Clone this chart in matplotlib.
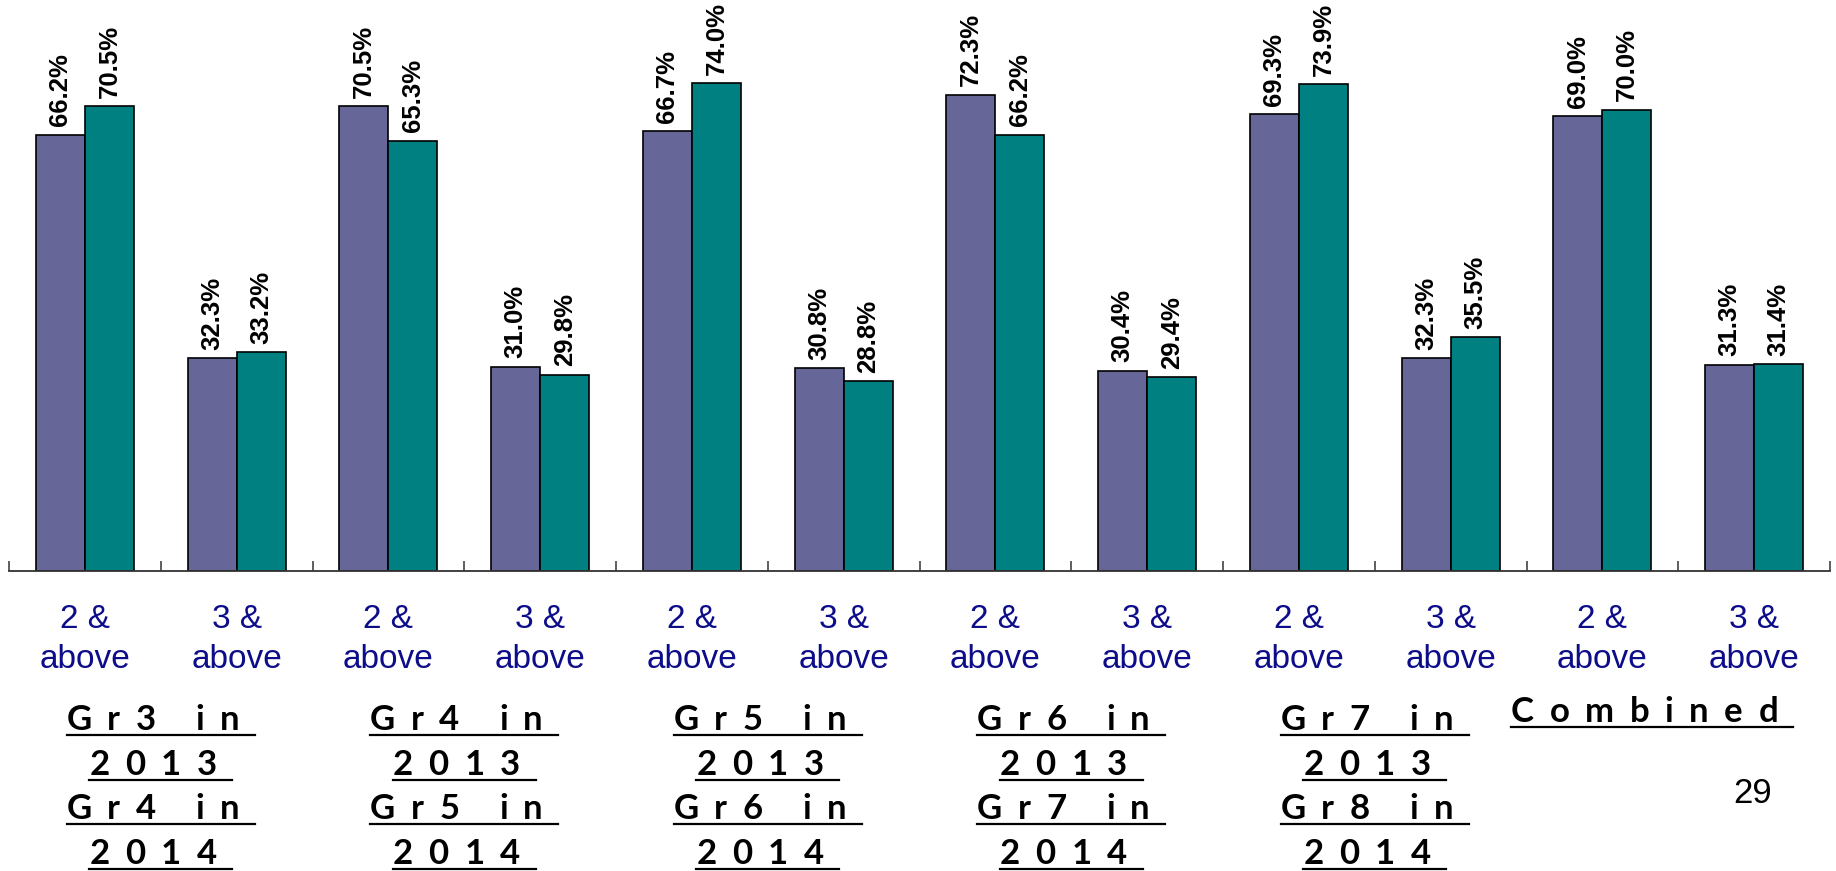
import numpy as np
import matplotlib
matplotlib.use('Agg')
import matplotlib.pyplot as plt
from matplotlib.font_manager import FontProperties, findfont, get_font
from matplotlib.transforms import IdentityTransform
from matplotlib.lines import Line2D

# data
categories = ['2 &\nabove', '3 &\nabove'] * 6
vals_2013 = [66.2, 32.3, 70.5, 31.0, 66.7, 30.8, 72.3, 30.4, 69.3, 32.3, 69.0, 31.3]
vals_2014 = [70.5, 33.2, 65.3, 29.8, 74.0, 28.8, 66.2, 29.4, 73.9, 35.5, 70.0, 31.4]
group_labels = [
    ['Gr3 in', '2013', 'Gr4 in', '2014'],
    ['Gr4 in', '2013', 'Gr5 in', '2014'],
    ['Gr5 in', '2013', 'Gr6 in', '2014'],
    ['Gr6 in', '2013', 'Gr7 in', '2014'],
    ['Gr7 in', '2013', 'Gr8 in', '2014'],
    ['Combined'],
]
page_number = '29'

W, H, DPI = 1836, 871, 100
PURPLE = '#666699'
TEAL = '#008080'
NAVY = '#0d0d8a'

fig = plt.figure(figsize=(W / DPI, H / DPI), dpi=DPI)
ax = fig.add_axes([9 / W, 300 / H, (1830 - 9) / W, 571 / H])

x = np.arange(len(categories))
bw = 0.323
ax.bar(x - bw / 2, vals_2013, bw, color=PURPLE, edgecolor='black', linewidth=1.2)
ax.bar(x + bw / 2, vals_2014, bw, color=TEAL, edgecolor='black', linewidth=1.2)

for xs, vs in [(x - bw / 2, vals_2013), (x + bw / 2, vals_2014)]:
    for xi, v in zip(xs, vs):
        ax.annotate(f'{v:.1f}%', (xi, v), xytext=(0, 6), textcoords='offset points',
                    rotation=90, ha='center', va='bottom', fontsize=18.5,
                    fontweight='bold', family='Liberation Sans')

ax.set_xlim(-0.5, len(categories) - 0.5)
ax.set_ylim(0, 571 / 6.59)
for s in ['top', 'left', 'right']:
    ax.spines[s].set_visible(False)
ax.spines['bottom'].set_color('#333333')
ax.spines['bottom'].set_linewidth(1.3)
ax.set_yticks([])
ax.set_xticks(np.arange(-0.5, len(categories), 1.0))
ax.set_xticklabels([])
ax.tick_params(axis='x', direction='in', length=7.5, width=1.1, color='#333333')

# category labels under the axis (each line on its own baseline)
to_pix = IdentityTransform()
for xi, lab in zip(x, categories):
    cx = ax.transData.transform((xi, 0))[0]
    l1, l2 = lab.split('\n')
    fig.text(cx, H - 628, l1, transform=to_pix, ha='center', va='baseline',
             fontsize=24, color=NAVY, family='Liberation Sans')
    fig.text(cx, H - 668, l2, transform=to_pix, ha='center', va='baseline',
             fontsize=24, color=NAVY, family='Liberation Sans')

# group labels: bold, letter spaced, underlined
grp_prop = FontProperties(family='Lato', weight='bold', size=25)
grp_font = get_font(findfont(grp_prop))
grp_font.set_size(25, DPI)


def spaced_text(cx, y, s, track=15.5):
    advs = [grp_font.load_char(ord(c)).linearHoriAdvance / 65536 + track for c in s]
    total = sum(advs)
    x0 = cx - total / 2
    xp = x0
    for c, a in zip(s, advs):
        fig.text(xp, y, c, transform=to_pix, fontproperties=grp_prop,
                 ha='left', va='baseline')
        xp += a
    fig.add_artist(Line2D([x0, x0 + total], [y - 5, y - 5], transform=to_pix,
                          color='black', lw=1.6))


rows_y = [H - 730, H - 775, H - 819, H - 864]
for gi, rows in enumerate(group_labels):
    cx = ax.transData.transform((2 * gi + 0.5, 0))[0]
    if len(rows) == 1:
        spaced_text(cx - 26, H - 722, rows[0])
    else:
        for r, y in zip(rows, rows_y):
            spaced_text(cx, y, r)

fig.text(1753, H - 803, page_number, transform=to_pix, ha='center', va='baseline',
         fontsize=25, family='Liberation Sans')

fig.savefig('out.png', dpi=DPI)
